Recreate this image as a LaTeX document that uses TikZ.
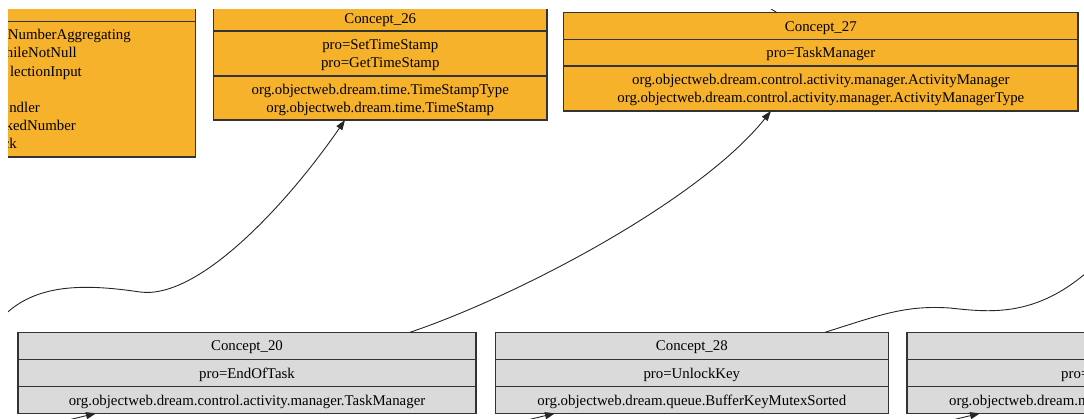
\documentclass[tikz,border=0pt]{standalone}
\usepackage{fontspec}
\setmainfont{Liberation Serif}
\usetikzlibrary{arrows.meta}
\definecolor{conceptorange}{RGB}{247,178,44}
\definecolor{conceptgray}{RGB}{218,218,218}
\tikzset{
  record/.style={draw=black!80, line width=1.1pt, inner sep=0pt, outer sep=0pt, anchor=north west},
  recorange/.style={record, fill=conceptorange},
  recgray/.style={record, fill=conceptgray},
  divider/.style={draw=black!80, line width=1.1pt},
  lbl/.style={inner sep=0pt, anchor=base, font=\fontsize{14.85}{18}\selectfont},
  link/.style={draw=black!85, line width=0.9pt},
  arrowed/.style={-{Triangle[length=10pt,width=7pt]}}
}
\begin{document}
\begin{tikzpicture}[x=1pt, y=-1pt]
  \useasboundingbox (0,0) rectangle (1084,418);
  \begin{scope}
    \clip (8,9) rectangle (1084,418);

    % Nodes with manual coordinates
    \node[recorange, minimum width=395.5pt, minimum height=167pt] (cl) at (-200,-10) {};
    \node[recorange, minimum width=333.5pt, minimum height=115pt] (c26) at (213.5,5) {};
    \node[recorange, minimum width=514.3pt, minimum height=98.3pt] (c27) at (563.7,12.7) {};
    \node[recgray, minimum width=458pt, minimum height=81pt] (c20) at (18,332.3) {};
    \node[recgray, minimum width=393.1pt, minimum height=81pt] (c28) at (495.3,332.3) {};
    \node[recgray, minimum width=400pt, minimum height=81pt] (cx) at (907,332.3) {};

    % Fields
    \draw[divider] (cl.west |- 0,21.5) -- (cl.east |- 0,21.5);
    \draw[divider] (c26.west |- 0,31) -- (c26.east |- 0,31);
    \draw[divider] (c26.west |- 0,76) -- (c26.east |- 0,76);
    \draw[divider] (c27.west |- 0,39.3) -- (c27.east |- 0,39.3);
    \draw[divider] (c27.west |- 0,66) -- (c27.east |- 0,66);
    \draw[divider] (c20.west |- 0,359.3) -- (c20.east |- 0,359.3);
    \draw[divider] (c20.west |- 0,386.7) -- (c20.east |- 0,386.7);
    \draw[divider] (c28.west |- 0,359.3) -- (c28.east |- 0,359.3);
    \draw[divider] (c28.west |- 0,386.7) -- (c28.east |- 0,386.7);
    \draw[divider] (cx.west |- 0,359.3) -- (cx.east |- 0,359.3);
    \draw[divider] (cx.west |- 0,386.7) -- (cx.east |- 0,386.7);

    % Labels
    \node[lbl, anchor=base east] (cl1) at (131,39.7) {NumberAggregating};
    \node[lbl, anchor=base east] (cl2) at (77,57.9) {hileNotNull};
    \node[lbl, anchor=base east] (cl3) at (82,76.1) {lectionInput};
    \node[lbl, anchor=base east] (cl5) at (40,112.5) {ndler};
    \node[lbl, anchor=base east] (cl6) at (76,130.7) {kedNumber};
    \node[lbl, anchor=base east] (cl7) at (17,148.9) {ck};

    \node[lbl] (c26t) at (380.25,23) {Concept\_26};
    \node[lbl] (c26p1) at (380.25,49.4) {pro=SetTimeStamp};
    \node[lbl] (c26p2) at (380.25,67.6) {pro=GetTimeStamp};
    \node[lbl] (c26c1) at (380.25,94) {org.objectweb.dream.time.TimeStampType};
    \node[lbl] (c26c2) at (380.25,112) {org.objectweb.dream.time.TimeStamp};

    \node[lbl] (c27t) at (820.85,31) {Concept\_27};
    \node[lbl] (c27p) at (820.85,57.7) {pro=TaskManager};
    \node[lbl] (c27c1) at (820.85,84.4) {org.objectweb.dream.control.activity.manager.ActivityManager};
    \node[lbl] (c27c2) at (820.85,102.6) {org.objectweb.dream.control.activity.manager.ActivityManagerType};

    \node[lbl] (c20t) at (247,350.8) {Concept\_20};
    \node[lbl] (c20p) at (247,378) {pro=EndOfTask};
    \node[lbl] (c20c) at (247,405) {org.objectweb.dream.control.activity.manager.TaskManager};

    \node[lbl] (c28t) at (691.85,350.8) {Concept\_28};
    \node[lbl] (c28p) at (691.85,378) {pro=UnlockKey};
    \node[lbl] (c28c) at (691.85,405) {org.objectweb.dream.queue.BufferKeyMutexSorted};

    \node[lbl, anchor=base west] (cxp) at (1061,378) {pro=};
    \node[lbl, anchor=base west] (cxc) at (949,405) {org.objectweb.dream.m};

    % Ends outside the view
    \coordinate (farL) at (-2,322);
    \coordinate (farR) at (1105,255);
    \coordinate (farT) at (765,5);
    \coordinate (low20) at (60,422);
    \coordinate (low28) at (519,422);
    \coordinate (lowx) at (944,422);

    % Edges
    \draw[link, arrowed] (c20.north -| 410,0) .. controls (520,295) and (700,200) .. (c27.south -| 771,0);
    \draw[link, arrowed] (farL) .. controls (30,284) and (80,283) .. (140,292)
      .. controls (200,300) and (290,200) .. (c26.south -| 345,0);
    \draw[link] (c28.north -| 825,0) .. controls (880,315) and (905,305) .. (950,308)
      .. controls (995,313) and (1045,318) .. (farR);
    \draw[link] (c27.north -| 777,0) -- (farT);
    \draw[link, arrowed] (low20) -- (c20.south -| 96,0);
    \draw[link, arrowed] (low28) -- (c28.south -| 555,0);
    \draw[link, arrowed] (lowx) -- (cx.south -| 980,0);
  \end{scope}
\end{tikzpicture}
\end{document}
